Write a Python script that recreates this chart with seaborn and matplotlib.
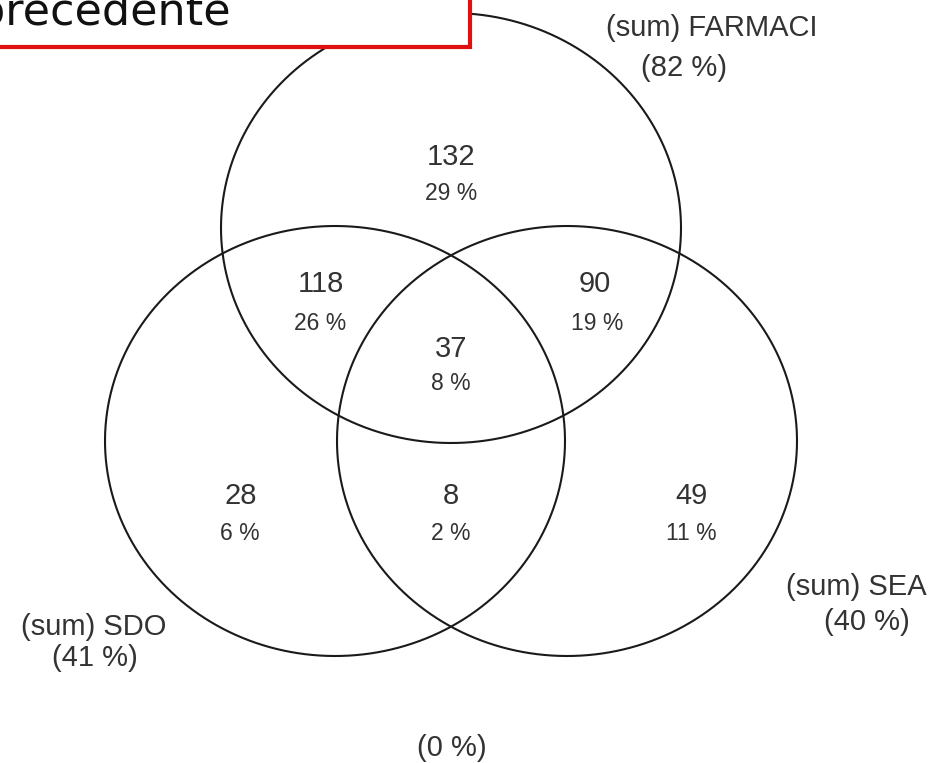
import numpy as np
import matplotlib
matplotlib.use("Agg")
import matplotlib.pyplot as plt
import matplotlib.patches as mpatches
import seaborn as sns

# region counts and shares
region_counts = ["132", "118", "90", "37", "28", "8", "49"]
region_pcts = ["29 %", "26 %", "19 %", "8 %", "6 %", "2 %", "11 %"]
set_names = ["(sum) FARMACI", "(sum) SDO", "(sum) SEA"]
set_pcts = ["(82 %)", "(41 %)", "(40 %)"]
outside_pct = "(0 %)"
box_text = "precedente"

sns.set_theme(style="white")
plt.rcParams["font.family"] = ["Liberation Sans", "DejaVu Sans"]

fig = plt.figure(figsize=(9.36, 7.63), dpi=100)
ax = fig.add_axes([0, 0, 1, 1])
ax.set_xlim(0, 936)
ax.set_ylim(763, 0)
ax.axis("off")

# the three sets (slightly stretched horizontally, like the source)
centers = [(451, 228), (335, 441), (567, 441)]
a, b = 230, 215
t = np.linspace(0, 2 * np.pi, 400)
for cx, cy in centers:
    sns.lineplot(x=cx + a * np.cos(t), y=cy + b * np.sin(t), sort=False,
                 color="#1a1a1a", linewidth=1.5, ax=ax, estimator=None)

num_pos = [(451, 157), (321, 284), (595, 284), (451, 349), (241, 496), (451, 496), (692, 496)]
pct_pos = [(451, 193), (320, 323), (597, 323), (451, 383), (240, 534), (451, 534), (691, 534)]
for s, (x, y) in zip(region_counts, num_pos):
    ax.text(x, y, s, ha="center", va="center", fontsize=21, color="#333333")
for s, (x, y) in zip(region_pcts, pct_pos):
    ax.text(x, y, s, ha="center", va="center", fontsize=16.5, color="#333333")

name_pos = [(712, 28), (94, 627), (856, 587)]
spct_pos = [(684, 68), (95, 658), (867, 622)]
for s, (x, y) in zip(set_names, name_pos):
    ax.text(x, y, s, ha="center", va="center", fontsize=21, color="#333333")
for s, (x, y) in zip(set_pcts, spct_pos):
    ax.text(x, y, s, ha="center", va="center", fontsize=21, color="#333333")
ax.text(452, 748, outside_pct, ha="center", va="center", fontsize=21, color="#333333")

# red callout box, partly cut off at the top left
ax.add_patch(mpatches.Rectangle((-20, -20), 490, 67, facecolor="white",
                                edgecolor="#e01010", linewidth=3, zorder=5))
ax.text(231, 25, box_text, ha="right", va="baseline", fontsize=32,
        family="DejaVu Sans", color="#111111", zorder=6)

fig.savefig("out.png", dpi=100)
